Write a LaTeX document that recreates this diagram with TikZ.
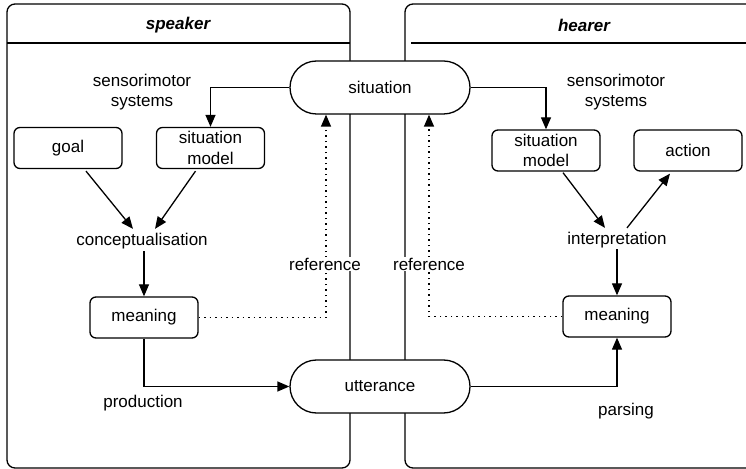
\documentclass[tikz,border=0pt]{standalone}
\usepackage{fontspec}
\setmainfont{Liberation Sans}
\usetikzlibrary{arrows.meta,calc}
\begin{document}
\begin{tikzpicture}[x=1bp,y=-1bp,
  every node/.style={font=\fontsize{17bp}{20.5bp}\selectfont},
  lw/.style={line width=1.3bp},
  box/.style={lw, draw, rounded corners=6bp, minimum width=108bp, minimum height=41bp, align=center, fill=white, inner sep=0pt},
  pill/.style={lw, draw, rounded corners=26.5bp, minimum width=180bp, minimum height=53bp, fill=white},
  lbl/.style={align=center, inner sep=1bp},
  reflbl/.style={fill=white, inner sep=1bp},
  arr/.style={lw, -{Triangle[length=12bp,width=10bp]}},
  dotarr/.style={lw, dash pattern=on 1.5bp off 4bp, -{Triangle[length=12bp,width=10bp]}},
  dotline/.style={lw, dash pattern=on 1.5bp off 4bp}]
\useasboundingbox (0,0) rectangle (746,469);
\clip (0,0) rectangle (746,469);
% swimlanes
\draw[lw, rounded corners=8bp] (7,4) rectangle (350,468);
\draw[lw] (7,43) -- (350,43);
\node[font=\fontsize{17bp}{20.5bp}\selectfont\bfseries\itshape] (spk) at (178,25) {speaker};
\draw[lw, rounded corners=8bp] (405,4) rectangle (763,468);
\draw[lw] (411,43) -- (763,43);
\node[font=\fontsize{17bp}{20.5bp}\selectfont\bfseries\itshape] (hrr) at (584,25) {hearer};
% shared nodes
\node[pill] (sit) at (380,87.5) {situation};
\node[pill] (utt) at (380,386.5) {utterance};
% speaker
\node[lbl] (ssens) at (142,92) {sensorimotor\\systems};
\node[box] (sgoal) at (68,148) {goal};
\node[box] (ssm) at (210.5,148) {situation\\model};
\node[lbl] (sconc) at (142,241) {conceptualisation};
\node[box] (smean) at (144,317.5) {meaning};
\node[lbl] (sprod) at (143,403) {production};
% hearer
\node[lbl] (hsens) at (616,92) {sensorimotor\\systems};
\node[box] (hsm) at (546,150.5) {situation\\model};
\node[box] (hact) at (688,150.5) {action};
\node[lbl] (hint) at (617,240) {interpretation};
\node[box] (hmean) at (617,316.5) {meaning};
\node[lbl] (hpars) at (626,411) {parsing};
% connectors speaker
\draw[arr] (sit.west) -| (ssm.north);
\draw[arr] ($(sgoal.south)+(18,2)$) -- ($(sconc.north)+(-9,-3)$);
\draw[arr] ($(ssm.south)+(-15,2)$) -- ($(sconc.north)+(13,-3)$);
\draw[arr] ($(sconc.south)+(2,1)$) -- (smean.north);
\draw[arr] (smean.south) |- (utt.west);
\coordinate (sref) at (326,264);
\draw[dotarr] (smean.east) -| (sit.south -| sref);
\node[reflbl] (srefl) at (325,264) {reference};
% connectors hearer
\draw[arr] (sit.east) -| (hsm.north);
\draw[arr] ($(hsm.south)+(17,1)$) -- ($(hint.north)+(-12,-3)$);
\draw[arr] ($(hint.north)+(10,-3)$) -- ($(hact.south)+(-18,2)$);
\draw[arr] (hint.south) -- (hmean.north);
\draw[arr] (utt.east) -| (hmean.south);
\coordinate (href) at (429,264);
\draw[dotarr] (hmean.west) -| (sit.south -| href);
\node[reflbl] (hrefl) at (429,264) {reference};
\end{tikzpicture}
\end{document}
